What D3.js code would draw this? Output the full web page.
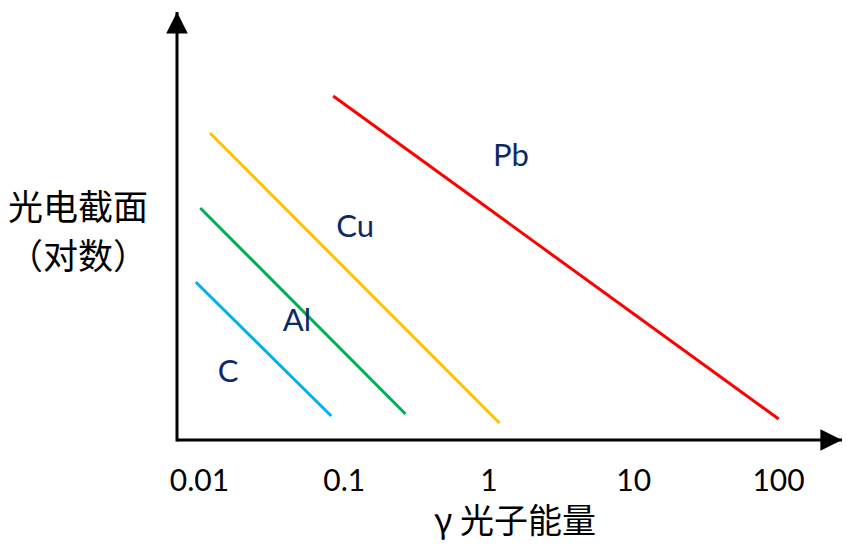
<!DOCTYPE html>
<html><head><meta charset="utf-8">
<script src="https://cdn.jsdelivr.net/npm/d3@7"></script>
<style>html,body{margin:0;padding:0;background:#fff;}svg{display:block;}</style>
</head><body>
<div id="chart"></div>
<script>
// Data: photon energy (MeV, log axis) and photoelectric cross-section (arbitrary units, log axis)
const tickValues = [0.01, 0.1, 1, 10, 100];
const tickLabels = ["0.01", "0.1", "1", "10", "100"];
const materials = ["C", "Al", "Cu", "Pb"];
const colors = ["#00B0F0", "#00B050", "#FFC000", "#FF0000"];
const energyStart = [0.0095, 0.0102, 0.0119, 0.0845];
const energyEnd = [0.082, 0.267, 1.19, 101];
const sigmaStart = [164, 1790, 20100, 66500];
const sigmaEnd = [2.17, 2.31, 1.73, 1.97];
const labelEnergy = [0.0159, 0.0475, 0.12, 1.43];
const labelSigma = [6.5, 33.7, 700, 6940];
const xTitle = "γ 光子能量";
const yTitle = ["光电截面", "（对数）"];

const W = 855, H = 555;
const svg = d3.select("#chart").append("svg").attr("width", W).attr("height", H);

const x = d3.scaleLog().domain([0.01, 100]).range([199, 778]);
const y = d3.scaleLog().domain([1, 1e6]).range([440, 12]);
const originX = 177, originY = 440;

const defs = svg.append("defs");
defs.append("marker").attr("id", "arrow").attr("viewBox", "0 0 10 10")
  .attr("refX", 10).attr("refY", 5).attr("markerWidth", 9).attr("markerHeight", 7.2)
  .attr("markerUnits", "strokeWidth").attr("orient", "auto")
  .append("path").attr("d", "M0,0 L10,5 L0,10 Z").attr("fill", "#000");

// axes lines with arrows
svg.append("line").attr("x1", originX).attr("y1", originY).attr("x2", 842).attr("y2", originY)
  .attr("stroke", "#000").attr("stroke-width", 3).attr("marker-end", "url(#arrow)");
svg.append("line").attr("x1", originX).attr("y1", originY + 1.5).attr("x2", originX).attr("y2", 12)
  .attr("stroke", "#000").attr("stroke-width", 3).attr("marker-end", "url(#arrow)");

// tick labels through d3 axis
const xAxis = d3.axisBottom(x).tickValues(tickValues)
  .tickFormat((d, i) => tickLabels[i]).tickSize(0).tickPadding(30);
const gx = svg.append("g").attr("transform", `translate(0,${originY})`).call(xAxis);
gx.select(".domain").remove();
gx.selectAll("text").attr("font-family", "Lato, 'Open Sans', sans-serif")
  .attr("font-size", 30).attr("fill", "#000");

// lines
const data = materials.map((m, i) => ({
  name: m, color: colors[i],
  pts: [[energyStart[i], sigmaStart[i]], [energyEnd[i], sigmaEnd[i]]],
  lx: labelEnergy[i], ly: labelSigma[i]
}));
const line = d3.line().x(d => x(d[0])).y(d => y(d[1]));
svg.selectAll("path.series").data(data).enter().append("path")
  .attr("class", "series").attr("d", d => line(d.pts))
  .attr("fill", "none").attr("stroke", d => d.color).attr("stroke-width", 3);

svg.selectAll("text.lab").data(data).enter().append("text")
  .attr("class", "lab").attr("x", d => x(d.lx)).attr("y", d => y(d.ly))
  .attr("text-anchor", "middle")
  .attr("font-family", "Lato, 'Open Sans', sans-serif").attr("font-size", 31)
  .attr("fill", "#0D2A66").text(d => d.name);

// titles
svg.append("text").attr("x", 515).attr("y", 533).attr("text-anchor", "middle")
  .attr("font-family", "'Noto Sans CJK SC', sans-serif").attr("font-size", 34)
  .attr("fill", "#000").text(xTitle);
svg.selectAll("text.yt").data(yTitle).enter().append("text").attr("class", "yt")
  .attr("x", 78).attr("y", (d, i) => 220 + i * 49).attr("text-anchor", "middle")
  .attr("font-family", "'Noto Sans CJK SC', sans-serif").attr("font-size", 35)
  .attr("fill", "#000").text(d => d);
</script>
</body></html>
